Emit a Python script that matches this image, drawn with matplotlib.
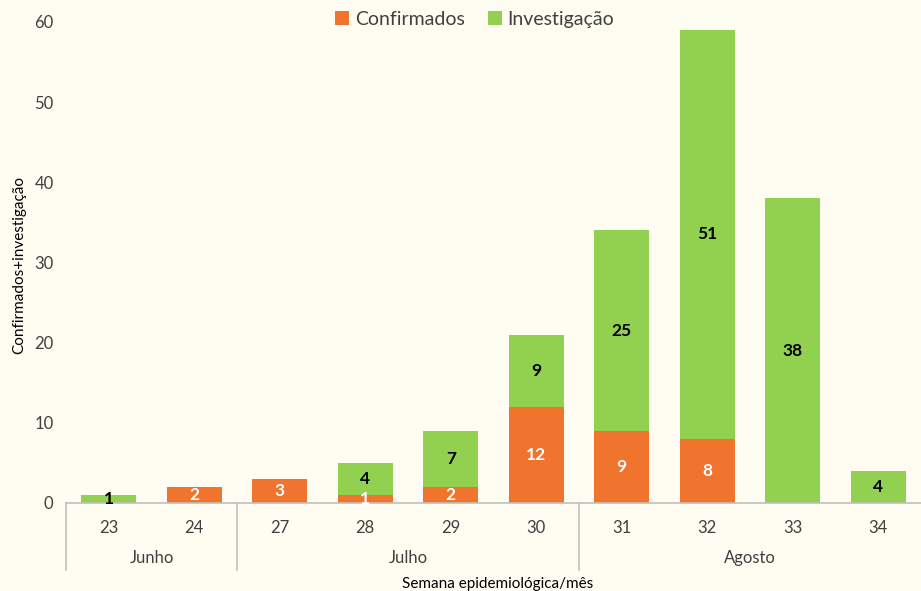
import matplotlib
matplotlib.use('Agg')
import matplotlib.pyplot as plt
import numpy as np

semanas = ['23', '24', '27', '28', '29', '30', '31', '32', '33', '34']
confirmados = [0, 2, 3, 1, 2, 12, 9, 8, 0, 0]
investigacao = [1, 0, 0, 4, 7, 9, 25, 51, 38, 4]
meses = ['Junho', 'Julho', 'Agosto']
semanas_por_mes = [2, 4, 4]

plt.rcParams['font.family'] = ['Lato', 'DejaVu Sans']

bg = '#FFFCF2'
laranja = '#F0732E'
verde = '#92D050'
cinza = '#BFBFBF'
texto = '#404040'

fig = plt.figure(figsize=(9.21, 5.91), dpi=100, facecolor=bg)
ax = fig.add_axes([0.0717, 0.149, 0.9283, 0.814], facecolor=bg)

x = np.arange(len(semanas))
w = 0.64
ax.bar(x, confirmados, w, color=laranja, label='Confirmados')
ax.bar(x, investigacao, w, bottom=confirmados, color=verde, label='Investigação')

for i in range(len(semanas)):
    if confirmados[i] > 0:
        ax.text(x[i], confirmados[i] / 2, str(confirmados[i]), ha='center', va='center',
                color='white', fontsize=12.5, fontweight='bold')
    if investigacao[i] > 0:
        ax.text(x[i], confirmados[i] + investigacao[i] / 2, str(investigacao[i]),
                ha='center', va='center', color='black', fontsize=12.5, fontweight='bold')

ax.set_xlim(-0.5, len(semanas) - 0.5)
ax.set_ylim(0, 60)
ax.set_yticks(range(0, 61, 10))
ax.tick_params(axis='y', length=0, labelsize=12, labelcolor=texto, pad=9)
ax.set_xticks(x)
ax.set_xticklabels(semanas)
ax.tick_params(axis='x', length=0, labelsize=12, labelcolor=texto, pad=12)
for s in ['top', 'right', 'left']:
    ax.spines[s].set_visible(False)
ax.spines['bottom'].set_color(cinza)
ax.spines['bottom'].set_linewidth(1.2)

# linhas e rotulos dos meses
trans = ax.get_xaxis_transform()
inicio = -0.5
for mes, n in zip(meses, semanas_por_mes):
    ax.plot([inicio, inicio], [0, -0.14], transform=trans, color=cinza, lw=1.2, clip_on=False)
    ax.text(inicio + n / 2, -0.115, mes, transform=trans, ha='center', va='center',
            fontsize=12, color=texto)
    inicio += n

ax.set_ylabel('Confirmados+investigação', fontsize=11, color='black')
ax.yaxis.set_label_coords(-0.047, 0.495)
fig.text(0.54, 0.012, 'Semana epidemiológica/mês', ha='center', va='center',
         fontsize=11, color='black')

ax.legend(loc='upper center', bbox_to_anchor=(0.478, 1.06), ncol=2, frameon=False,
          fontsize=14, handlelength=0.7, handleheight=0.7, handletextpad=0.3,
          columnspacing=1.2, labelcolor=texto)

fig.savefig('out.png', dpi=100, facecolor=bg)
